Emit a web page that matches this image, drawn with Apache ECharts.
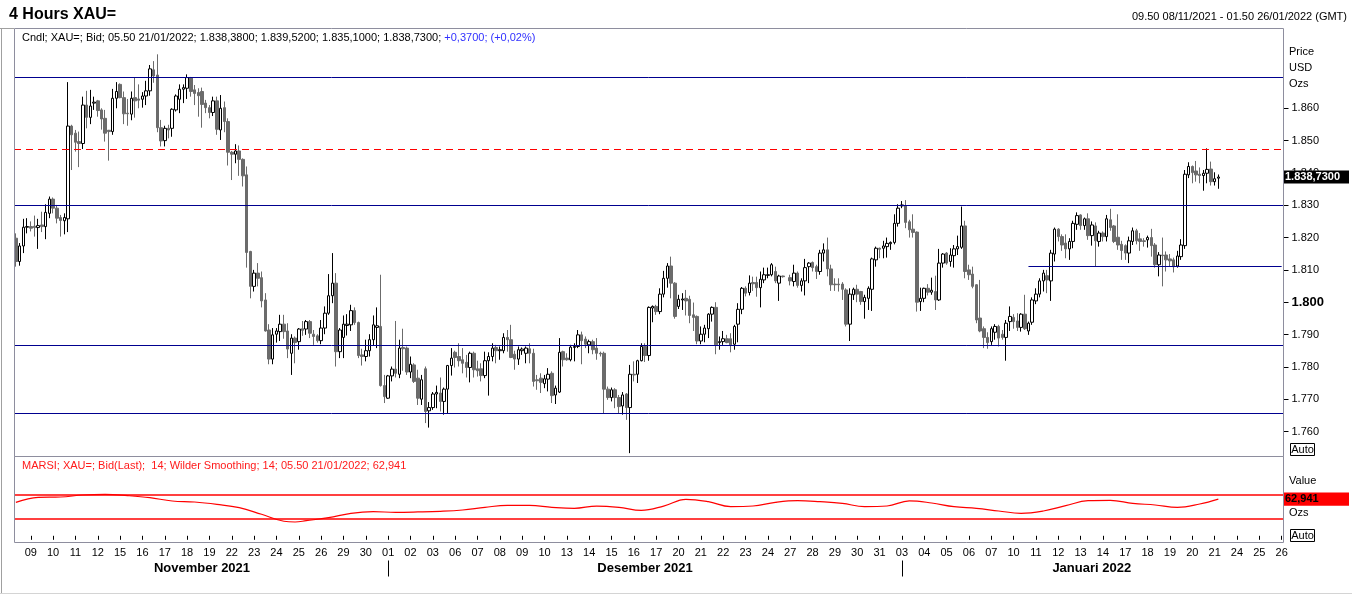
<!DOCTYPE html>
<html>
<head>
<meta charset="utf-8">
<title>4 Hours XAU=</title>
<script src="https://cdn.jsdelivr.net/npm/echarts@6/dist/echarts.min.js"></script>
<style>
  html, body { margin: 0; padding: 0; background: #fff; }
  #chart { width: 1352px; height: 596px; }
</style>
</head>
<body>
<div id="chart"></div>
<script>
// trading days on the axis, 4h candles (local time)
var tradingDays = [
  '2021-11-08', '2021-11-09', '2021-11-10', '2021-11-11', '2021-11-12', '2021-11-15', '2021-11-16',
  '2021-11-17', '2021-11-18', '2021-11-19', '2021-11-22', '2021-11-23', '2021-11-24', '2021-11-25',
  '2021-11-26', '2021-11-29', '2021-11-30',
  '2021-12-01', '2021-12-02', '2021-12-03', '2021-12-06', '2021-12-07', '2021-12-08', '2021-12-09',
  '2021-12-10', '2021-12-13', '2021-12-14', '2021-12-15', '2021-12-16', '2021-12-17', '2021-12-20',
  '2021-12-21', '2021-12-22', '2021-12-23', '2021-12-24', '2021-12-27', '2021-12-28', '2021-12-29',
  '2021-12-30', '2021-12-31',
  '2022-01-03', '2022-01-04', '2022-01-05', '2022-01-06', '2022-01-07', '2022-01-10', '2022-01-11',
  '2022-01-12', '2022-01-13', '2022-01-14', '2022-01-17', '2022-01-18', '2022-01-19', '2022-01-20',
  '2022-01-21', '2022-01-24', '2022-01-25', '2022-01-26'
];
var candleTimes = ['01.50', '05.50', '09.50', '13.50', '17.50', '21.50'];
var monthNames = { '2021-11': 'November 2021', '2021-12': 'Desember 2021', '2022-01': 'Januari 2022' };

// OHLC, one value per 4h candle (null = no candle)
var opens = [
  1819.8, 1812.6, 1817.4, 1823.2, 1823.4, 1823.5, 1823.1, 1823.9, 1823.4, 1827.5,
  1831.9, 1829.1, 1826.2, 1825.2, 1825.8, 1854.5, 1852.3, 1849.7, 1849.1, 1861.0,
  1857.2, 1861.6, 1862.3, 1859.5, 1856.9, 1853.2, 1852.8, 1863.1, 1867.4, 1863.3,
  1858.5, 1858.2, 1863.3, 1862.9, 1862.8, 1863.8, 1865.4, 1871.9, 1870.3, 1854.0,
  1850.0, 1853.8, 1853.8, 1859.5, 1862.8, 1865.9, 1866.2, 1869.5, 1865.7, 1864.9,
  1865.2, 1861.6, 1860.2, 1858.7, 1862.3, 1853.3, 1860.2, 1855.9, 1846.4, 1845.8,
  1846.8, 1844.2, 1839.4, 1815.7, 1804.9, 1809.0, 1807.6, 1800.7, 1791.4, 1782.4,
  1790.1, 1790.9, 1793.2, 1791.1, 1784.2, 1788.9, 1787.8, 1791.8, 1791.7, 1794.0,
  1790.1, 1789.6, 1788.1, 1792.0, 1796.6, 1802.0, 1805.9, 1784.7, 1789.1, 1792.8,
  1793.0, 1797.4, 1793.7, 1783.7, 1783.2, 1785.0, 1788.4, 1792.2, 1792.5, 1774.2,
  1770.3, 1777.2, 1779.3, 1777.7, 1786.0, 1785.8, 1778.4, 1780.6, 1776.5, 1770.0,
  1779.4, 1766.4, 1767.4, 1771.6, 1771.9, 1769.3, 1773.1, 1780.4, 1784.5, 1783.2,
  1782.2, 1781.4, 1779.8, 1784.2, 1779.4, 1779.4, 1777.3, 1781.9, 1783.2, 1786.0,
  1785.0, 1785.0, 1789.1, 1788.4, 1783.9, 1782.4, 1785.0, 1784.2, 1785.6, 1784.2,
  1776.0, 1776.5, 1774.8, 1776.2, 1778.0, 1771.3, 1772.2, 1784.7, 1782.7, 1782.2,
  1786.0, 1786.3, 1789.9, 1788.6, 1786.8, 1787.8, 1785.8, 1784.2, 1784.2, 1773.1,
  1770.5, 1772.9, 1770.5, 1767.9, 1771.6, 1767.4, 1777.7, 1777.7, 1781.9, 1786.3,
  1783.5, 1798.2, 1798.7, 1797.1, 1802.5, 1807.4, 1811.2, 1805.9, 1798.7, 1800.7,
  1801.2, 1800.9, 1796.1, 1795.6, 1788.0, 1790.1, 1791.8, 1796.3, 1798.4, 1787.5,
  1787.8, 1788.7, 1788.7, 1787.0, 1793.2, 1797.8, 1804.3, 1803.0, 1806.1, 1806.1,
  1804.5, 1806.9, 1808.3, 1808.5, 1809.5, 1805.9, 1808.1, null, 1807.6, 1806.4,
  1809.0, 1805.2, 1806.6, 1811.0, 1812.3, 1811.0, 1809.5, 1815.2, 1816.2, 1810.3,
  1805.6, 1805.6, 1805.6, 1803.8, 1793.2, 1802.3, 1804.0, 1803.3, 1800.2, 1801.2,
  1804.0, 1813.1, 1816.7, 1816.7, 1817.2, 1818.1, 1818.5, 1824.4, 1829.8, 1829.9,
  1824.9, 1822.6, 1821.7, 1800.2, 1801.2, 1804.3, 1803.1, 1803.3, 1800.7, 1812.1,
  1815.2, 1812.6, 1814.4, 1816.5, 1817.0, 1823.6, 1810.0, 1808.7, 1805.4, 1795.1,
  1791.8, 1789.1, 1787.8, 1790.7, 1792.5, 1790.1, 1789.1, 1794.0, 1795.3, 1794.2,
  1792.2, 1796.3, 1791.1, 1793.8, 1800.4, 1802.5, 1806.6, 1808.2, 1806.6, 1814.9,
  1822.6, 1820.3, 1818.3, 1816.5, 1818.8, 1824.1, 1827.0, 1823.7, 1825.8, 1820.6,
  1823.6, 1818.8, 1821.4, 1820.3, 1825.5, 1823.6, 1820.1, 1817.9, 1817.5, 1815.2,
  1818.8, 1822.1, 1819.6, 1819.0, 1819.3, 1820.0, 1817.7, 1811.6, 1814.6, 1814.6,
  1813.4, 1813.1, 1811.2, 1814.1, 1817.5, 1839.4, 1842.0, 1840.6, 1839.6, 1839.2,
  1839.9, 1841.2, 1837.3, 1838.38
];
var closes = [
  1812.6, 1817.4, 1823.2, 1823.4, 1822.9, 1823.1, 1823.7, 1823.4, 1827.8, 1831.9,
  1829.1, 1826.0, 1825.3, 1826.2, 1854.5, 1851.8, 1849.5, 1849.1, 1861.0, 1857.2,
  1860.7, 1861.9, 1859.3, 1856.7, 1852.3, 1852.8, 1863.1, 1865.2, 1863.3, 1858.3,
  1858.3, 1863.1, 1862.3, 1862.5, 1863.8, 1865.4, 1872.2, 1870.0, 1854.0, 1849.9,
  1853.8, 1853.3, 1859.7, 1863.8, 1865.9, 1866.4, 1869.5, 1865.2, 1864.6, 1863.9,
  1861.2, 1860.2, 1858.7, 1862.3, 1853.5, 1860.0, 1855.9, 1846.4, 1845.8, 1846.8,
  1844.2, 1839.1, 1815.4, 1804.9, 1809.0, 1807.4, 1800.4, 1791.1, 1782.4, 1789.9,
  1791.1, 1793.2, 1790.9, 1785.5, 1788.9, 1787.5, 1791.7, 1791.3, 1794.0, 1790.4,
  1789.4, 1788.1, 1792.0, 1796.6, 1802.0, 1805.9, 1784.7, 1791.4, 1793.2, 1793.2,
  1797.4, 1793.7, 1783.5, 1783.2, 1785.0, 1788.4, 1793.0, 1792.7, 1774.2, 1770.8,
  1777.2, 1779.3, 1778.0, 1785.8, 1785.6, 1778.4, 1780.8, 1775.5, 1770.3, 1776.0,
  1766.2, 1767.4, 1771.6, 1772.1, 1769.3, 1773.1, 1780.4, 1782.7, 1782.9, 1781.9,
  1781.1, 1779.8, 1784.2, 1779.1, 1778.8, 1777.3, 1781.9, 1783.2, 1785.8, 1785.0,
  1785.3, 1789.1, 1788.4, 1782.9, 1782.4, 1785.3, 1785.5, 1785.8, 1784.2, 1775.5,
  1775.7, 1775.2, 1776.3, 1777.7, 1771.1, 1773.4, 1784.5, 1782.2, 1782.2, 1786.1,
  1786.3, 1789.9, 1788.1, 1787.0, 1787.8, 1785.3, 1784.2, 1784.0, 1773.1, 1770.5,
  1772.9, 1770.5, 1767.7, 1771.3, 1767.4, 1777.7, 1777.5, 1781.9, 1786.3, 1783.5,
  1798.4, 1798.7, 1797.1, 1802.5, 1807.4, 1811.2, 1805.9, 1795.6, 1800.9, 1801.0,
  1800.4, 1795.9, 1795.3, 1788.0, 1790.1, 1792.0, 1796.3, 1798.4, 1786.8, 1787.8,
  1788.7, 1787.5, 1786.8, 1792.5, 1797.8, 1804.3, 1802.8, 1805.9, 1805.7, 1804.5,
  1807.1, 1808.5, 1808.5, 1811.6, 1806.6, 1808.1, 1807.9, null, 1806.6, 1809.0,
  1805.2, 1806.6, 1810.7, 1812.1, 1810.7, 1809.5, 1815.2, 1816.2, 1810.3, 1805.4,
  1805.4, 1805.4, 1804.0, 1793.2, 1802.5, 1804.0, 1802.5, 1800.2, 1801.5, 1804.3,
  1813.4, 1816.7, 1816.4, 1817.4, 1818.2, 1818.5, 1824.4, 1829.1, 1830.1, 1824.7,
  1822.4, 1821.6, 1800.0, 1801.2, 1804.3, 1803.1, 1803.7, 1800.7, 1812.1, 1814.9,
  1812.1, 1814.6, 1816.5, 1817.2, 1823.6, 1809.5, 1808.5, 1804.9, 1794.5, 1791.1,
  1789.1, 1787.5, 1791.8, 1792.5, 1788.9, 1789.1, 1793.5, 1795.6, 1794.0, 1792.2,
  1796.3, 1791.8, 1793.5, 1800.7, 1802.5, 1806.6, 1809.0, 1806.9, 1815.2, 1822.6,
  1820.3, 1817.7, 1816.5, 1818.8, 1824.4, 1826.8, 1823.7, 1825.8, 1820.6, 1823.9,
  1819.0, 1821.4, 1820.3, 1825.8, 1823.1, 1818.8, 1817.7, 1816.0, 1815.2, 1819.0,
  1822.1, 1819.0, 1818.8, 1818.8, 1820.0, 1817.5, 1811.6, 1814.6, 1814.4, 1813.1,
  1812.8, 1811.0, 1814.3, 1817.7, 1839.6, 1842.0, 1840.1, 1839.4, 1839.2, 1839.9,
  1841.1, 1837.3, 1838.2, 1838.73
];
var highs = [
  1821.3, 1818.3, 1825.8, 1826.0, 1825.0, 1826.8, 1825.8, 1828.0, 1830.3, 1832.7,
  1832.4, 1830.1, 1827.0, 1827.5, 1868.1, 1854.9, 1853.3, 1852.8, 1863.6, 1865.4,
  1865.7, 1863.6, 1862.6, 1860.0, 1859.5, 1853.3, 1866.0, 1868.1, 1867.7, 1865.2,
  1862.9, 1865.2, 1869.5, 1867.4, 1865.0, 1868.5, 1873.4, 1874.6, 1876.7, 1856.4,
  1854.6, 1854.9, 1860.0, 1864.3, 1867.4, 1867.4, 1870.5, 1869.7, 1867.2, 1866.2,
  1866.4, 1862.6, 1861.0, 1863.6, 1863.6, 1864.1, 1862.1, 1856.9, 1846.8, 1848.9,
  1848.5, 1844.5, 1842.0, 1815.9, 1810.0, 1812.1, 1809.5, 1802.8, 1793.2, 1792.0,
  1792.0, 1796.1, 1796.1, 1793.5, 1790.1, 1789.4, 1792.0, 1794.2, 1794.5, 1794.5,
  1791.4, 1790.1, 1794.5, 1798.7, 1808.7, 1815.2, 1809.0, 1792.0, 1795.9, 1796.3,
  1799.2, 1798.4, 1794.0, 1785.6, 1788.4, 1790.1, 1795.9, 1798.4, 1808.5, 1777.5,
  1777.5, 1780.1, 1794.2, 1788.4, 1791.8, 1786.3, 1783.2, 1781.1, 1779.1, 1777.5,
  1780.1, 1769.1, 1772.2, 1774.2, 1776.7, 1773.6, 1780.6, 1785.8, 1785.0, 1787.3,
  1785.8, 1783.7, 1784.7, 1784.7, 1781.9, 1781.1, 1784.7, 1784.5, 1787.3, 1786.8,
  1786.3, 1790.4, 1791.4, 1793.0, 1785.0, 1786.3, 1786.0, 1786.3, 1787.3, 1785.6,
  1777.5, 1778.0, 1777.5, 1779.6, 1778.6, 1774.2, 1788.9, 1785.0, 1784.2, 1786.8,
  1787.3, 1791.4, 1790.9, 1789.4, 1788.4, 1788.4, 1788.9, 1784.7, 1784.7, 1773.9,
  1773.6, 1773.4, 1771.3, 1772.2, 1771.9, 1780.6, 1781.7, 1782.2, 1787.3, 1787.3,
  1798.7, 1799.0, 1799.2, 1804.3, 1809.7, 1812.1, 1814.1, 1806.2, 1802.3, 1802.8,
  1803.8, 1802.0, 1799.9, 1795.9, 1792.5, 1793.0, 1796.6, 1798.7, 1800.0, 1789.4,
  1791.1, 1789.9, 1790.4, 1793.0, 1799.7, 1804.7, 1804.9, 1808.3, 1807.9, 1807.9,
  1809.5, 1810.7, 1810.7, 1812.1, 1811.0, 1808.5, 1808.2, null, 1808.5, 1811.6,
  1809.5, 1807.4, 1813.4, 1812.4, 1812.6, 1811.6, 1816.2, 1818.2, 1820.0, 1811.6,
  1807.4, 1807.4, 1806.2, 1804.3, 1804.3, 1804.5, 1805.4, 1803.5, 1802.3, 1804.9,
  1813.8, 1817.2, 1816.9, 1819.0, 1820.0, 1818.8, 1827.2, 1830.3, 1831.3, 1831.6,
  1825.5, 1827.2, 1821.9, 1804.5, 1804.5, 1805.6, 1807.6, 1808.2, 1816.5, 1815.2,
  1815.5, 1816.7, 1817.7, 1820.6, 1829.6, 1825.2, 1811.6, 1811.0, 1805.6, 1806.9,
  1792.5, 1790.7, 1792.5, 1793.2, 1793.0, 1791.4, 1794.5, 1798.7, 1796.3, 1796.6,
  1796.6, 1802.3, 1794.0, 1801.5, 1804.3, 1807.4, 1810.0, 1810.0, 1816.2, 1823.1,
  1822.9, 1821.0, 1821.0, 1819.8, 1825.2, 1827.8, 1827.2, 1826.2, 1827.5, 1825.0,
  1824.7, 1822.1, 1821.9, 1827.0, 1828.9, 1823.9, 1827.2, 1819.0, 1817.9, 1820.3,
  1823.1, 1822.7, 1821.4, 1819.8, 1820.6, 1822.7, 1818.3, 1815.5, 1820.0, 1815.7,
  1814.9, 1813.8, 1815.9, 1819.5, 1840.9, 1843.3, 1842.3, 1843.7, 1841.7, 1840.9,
  1847.6, 1843.5, 1840.2, 1839.52
];
var lows = [
  1811.0, 1811.3, 1815.2, 1821.3, 1821.9, 1820.3, 1816.5, 1821.7, 1819.5, 1826.0,
  1827.5, 1824.4, 1820.3, 1821.0, 1821.7, 1840.9, 1846.6, 1841.8, 1847.4, 1853.8,
  1855.1, 1859.5, 1857.4, 1853.4, 1849.7, 1843.8, 1851.8, 1860.0, 1863.1, 1855.1,
  1854.6, 1856.3, 1857.1, 1860.0, 1860.2, 1861.0, 1863.9, 1867.9, 1852.6, 1848.2,
  1848.2, 1850.7, 1851.2, 1859.0, 1858.5, 1861.6, 1862.9, 1863.6, 1861.0, 1857.4,
  1854.0, 1858.5, 1856.9, 1857.6, 1851.8, 1850.2, 1852.6, 1842.3, 1837.8, 1843.0,
  1839.1, 1835.8, 1810.7, 1801.2, 1803.3, 1804.9, 1798.4, 1790.9, 1780.8, 1780.8,
  1787.5, 1788.0, 1788.7, 1782.7, 1777.5, 1781.1, 1785.3, 1789.6, 1789.9, 1788.9,
  1786.8, 1787.5, 1787.0, 1790.1, 1796.1, 1799.7, 1780.1, 1782.7, 1782.7, 1789.7,
  1791.1, 1793.0, 1782.7, 1780.4, 1781.7, 1783.2, 1786.5, 1785.8, 1773.9, 1768.8,
  1770.1, 1775.5, 1776.7, 1776.5, 1778.8, 1777.5, 1776.5, 1775.0, 1768.2, 1768.2,
  1762.6, 1761.2, 1766.7, 1767.2, 1766.2, 1765.2, 1765.7, 1777.3, 1779.8, 1780.1,
  1778.0, 1776.7, 1775.2, 1776.7, 1777.0, 1775.5, 1776.5, 1771.1, 1781.7, 1781.1,
  1782.2, 1784.2, 1784.7, 1782.7, 1779.1, 1780.6, 1783.7, 1781.1, 1781.1, 1773.9,
  1772.9, 1771.9, 1773.4, 1772.4, 1768.8, 1768.5, 1771.9, 1780.1, 1781.9, 1781.7,
  1781.7, 1785.8, 1780.8, 1785.8, 1784.2, 1783.9, 1782.2, 1783.2, 1765.7, 1769.8,
  1769.3, 1767.2, 1765.7, 1765.2, 1763.6, 1753.3, 1775.5, 1775.0, 1781.7, 1781.5,
  1781.9, 1793.8, 1796.1, 1796.3, 1801.5, 1804.5, 1801.2, 1794.9, 1797.9, 1797.6,
  1795.9, 1793.5, 1791.1, 1787.0, 1787.0, 1787.6, 1788.9, 1794.0, 1783.9, 1785.3,
  1786.8, 1787.3, 1784.5, 1785.3, 1787.6, 1796.3, 1801.8, 1802.1, 1803.5, 1801.7,
  1798.4, 1805.9, 1807.4, 1808.0, 1805.9, 1800.4, 1807.6, null, 1805.2, 1804.9,
  1804.5, 1803.3, 1802.1, 1805.9, 1809.5, 1807.2, 1808.5, 1812.6, 1808.0, 1803.5,
  1803.5, 1803.3, 1800.7, 1792.5, 1788.0, 1800.7, 1800.0, 1799.2, 1794.9, 1797.6,
  1797.3, 1811.0, 1813.6, 1813.6, 1813.8, 1816.2, 1817.9, 1823.4, 1829.1, 1822.9,
  1820.0, 1820.0, 1797.1, 1797.3, 1800.0, 1802.1, 1802.3, 1797.6, 1800.4, 1810.7,
  1811.6, 1811.0, 1810.7, 1814.6, 1816.5, 1807.4, 1806.9, 1804.3, 1793.5, 1790.7,
  1785.8, 1785.6, 1786.8, 1788.4, 1786.3, 1788.4, 1781.9, 1791.1, 1791.8, 1791.1,
  1790.9, 1791.4, 1789.9, 1793.0, 1799.4, 1801.5, 1803.3, 1802.8, 1800.4, 1812.6,
  1818.8, 1815.9, 1813.6, 1813.1, 1816.7, 1822.4, 1822.4, 1822.4, 1819.3, 1817.5,
  1811.0, 1817.2, 1818.8, 1818.8, 1822.1, 1818.3, 1816.2, 1813.1, 1813.1, 1812.1,
  1817.7, 1817.9, 1815.9, 1817.2, 1816.9, 1814.1, 1810.7, 1808.0, 1804.9, 1809.5,
  1811.0, 1809.2, 1810.7, 1813.1, 1816.5, 1838.4, 1836.8, 1837.3, 1836.8, 1834.5,
  1836.8, 1836.1, 1836.1, 1835.10
];

// MARSI(14) read at candle positions
var rsiSlots = [0, 6, 12, 18, 24, 30, 36, 42, 48, 54, 60, 66, 72, 75, 78, 84, 90, 96, 102, 108,
  114, 120, 126, 132, 138, 144, 150, 156, 162, 168, 174, 180, 186, 192, 198, 204, 210, 216, 222, 228,
  234, 240, 246, 252, 258, 264, 270, 276, 282, 288, 294, 300, 306, 312, 318, 323];
var rsiValues = [57.4, 66.0, 66.6, 70.0, 71.1, 68.9, 65.4, 59.7, 58.0, 54.0, 48.3, 36.9, 25.0, 23.7, 26.0, 31.1, 38.6, 41.4, 40.3, 40.9,
  42.0, 44.3, 48.9, 52.3, 52.3, 48.9, 47.1, 51.1, 48.9, 43.7, 51.0, 62.6, 58.6, 50.0, 51.1, 57.4, 60.3, 58.6, 55.7, 50.0,
  51.1, 60.0, 56.3, 50.0, 47.1, 42.6, 38.6, 42.6, 51.7, 60.3, 60.9, 55.7, 52.9, 48.9, 54.6, 62.941];

var levelLines = [1869.6, 1830.0, 1786.7, 1765.6];
var dashedLevel = 1847.3;
var supportLevel = 1811.2;
var supportFromSlot = 272;
var priceTicks = [1760, 1770, 1780, 1790, 1800, 1810, 1820, 1830, 1840, 1850, 1860];
var rsiBands = [70, 30];
var lastClose = 1838.73;
var lastRsi = 62.941;

var headerMain = 'Cndl; XAU=; Bid; 05.50 21/01/2022; 1.838,3800; 1.839,5200; 1.835,1000; 1.838,7300; ';
var headerChange = '+0,3700; (+0,02%)';
var rsiHeader = 'MARSI; XAU=; Bid(Last);  14; Wilder Smoothing; 14; 05.50 21/01/2022; 62,941';

// build the time slots
var categories = [];
tradingDays.forEach(function (d, i) {
  var times = candleTimes;
  if (i === 0) times = candleTimes.slice(2);
  if (i === tradingDays.length - 1) times = candleTimes.slice(0, 1);
  times.forEach(function (t) { categories.push(d + ' ' + t); });
});

var monthStarts = [];
var monthMids = [];
(function () {
  var ranges = [];
  categories.forEach(function (c, i) {
    var m = c.slice(0, 7);
    if (!ranges.length || ranges[ranges.length - 1].m !== m) ranges.push({ m: m, s: i, e: i });
    else ranges[ranges.length - 1].e = i;
  });
  ranges.forEach(function (r, i) {
    if (i > 0) monthStarts.push(r.s);
    monthMids.push(Math.round((r.s + r.e) / 2));
  });
})();

function isDayStart(idx, value) { return value.slice(11) === '01.50'; }
function fmtPrice(v) {
  var s = String(Math.round(v));
  return s.slice(0, 1) + '.' + s.slice(1);
}

var candleData = opens.map(function (o, i) {
  return o == null ? '-' : [o, closes[i], lows[i], highs[i]];
});
var rsiData = rsiSlots.map(function (s, i) { return [s, rsiValues[i]]; });

var FONT = "'Liberation Sans', Arial, sans-serif";
var NAVY = '#00008f';

var chart = echarts.init(document.getElementById('chart'));

var levelData = levelLines.map(function (v) { return { yAxis: v }; });
levelData.push({ yAxis: dashedLevel, lineStyle: { color: '#ff0000', type: [7, 5] } });
levelData.push([
  { coord: [categories[supportFromSlot], supportLevel] },
  { coord: [categories[categories.length - 1], supportLevel] }
]);

var option = {
  animation: false,
  backgroundColor: '#ffffff',
  textStyle: { fontFamily: FONT },
  grid: [
    { left: 14, top: 28.5, width: 1269.5, height: 428 },
    { left: 14, top: 456.5, width: 1269.5, height: 86 }
  ],
  xAxis: [
    { type: 'category', gridIndex: 0, data: categories, show: false },
    {
      type: 'category', gridIndex: 1, data: categories, position: 'bottom',
      axisLine: { show: false },
      axisTick: { show: true, interval: isDayStart, alignWithLabel: true, length: 4, lineStyle: { color: '#000' } },
      axisLabel: {
        interval: isDayStart, margin: 5, color: '#000', fontSize: 11, fontFamily: FONT,
        formatter: function (v) { return v.slice(8, 10); }
      },
      splitLine: { show: false }
    },
    {
      type: 'category', gridIndex: 1, data: categories, position: 'bottom', offset: 18,
      axisLine: { show: false },
      axisTick: {
        show: true, alignWithLabel: true, length: 16, lineStyle: { color: '#000' },
        interval: function (idx) { return monthStarts.indexOf(idx) >= 0; }
      },
      axisLabel: {
        margin: 1, color: '#000', fontSize: 13, fontWeight: 'bold', fontFamily: FONT,
        interval: function (idx) { return monthMids.indexOf(idx) >= 0; },
        formatter: function (v) { return monthNames[v.slice(0, 7)]; }
      },
      splitLine: { show: false }
    }
  ],
  yAxis: [
    {
      type: 'value', gridIndex: 0, position: 'right', min: 1752.26, max: 1884.69, scale: true,
      axisLine: { show: false },
      splitLine: { show: false },
      axisTick: { show: true, length: 5, customValues: priceTicks, lineStyle: { color: '#000' } },
      axisLabel: {
        customValues: priceTicks, margin: 8, color: '#000', fontSize: 11, fontFamily: FONT,
        formatter: function (v) {
          return v === 1800 ? '{b|' + fmtPrice(v) + '}' : fmtPrice(v);
        },
        rich: { b: { fontSize: 13, fontWeight: 'bold', color: '#000', fontFamily: FONT } }
      }
    },
    {
      type: 'value', gridIndex: 1, min: -11.5, max: 136.1,
      axisLine: { show: false }, axisTick: { show: false },
      axisLabel: { show: false }, splitLine: { show: false }
    }
  ],
  series: [
    {
      type: 'candlestick',
      xAxisIndex: 0, yAxisIndex: 0,
      data: candleData,
      barWidth: 3,
      itemStyle: {
        color: '#ffffff', color0: '#6b6b6b',
        borderColor: '#000000', borderColor0: '#6b6b6b', borderWidth: 1
      },
      markLine: {
        silent: true, symbol: ['none', 'none'], label: { show: false },
        lineStyle: { color: NAVY, width: 1, type: 'solid' },
        data: levelData
      }
    },
    {
      type: 'line',
      xAxisIndex: 1, yAxisIndex: 1,
      data: rsiData,
      smooth: 0.4,
      symbol: 'none',
      lineStyle: { color: '#ff0000', width: 1.2 },
      markLine: {
        silent: true, symbol: ['none', 'none'], label: { show: false },
        lineStyle: { color: '#ff0000', width: 1.5, type: 'solid' },
        data: rsiBands.map(function (v) { return { yAxis: v }; })
      }
    }
  ]
};
chart.setOption(option);

// frame, texts and value tags
var yClose = chart.convertToPixel({ yAxisIndex: 0 }, lastClose);
var yRsi = chart.convertToPixel({ yAxisIndex: 1 }, lastRsi);

function txt(x, y, text, opts) {
  opts = opts || {};
  return {
    type: 'text', z: 100, silent: true,
    style: {
      x: x, y: y, text: text,
      fill: opts.fill || '#000',
      font: (opts.weight || 'normal') + ' ' + (opts.size || 11) + 'px ' + FONT,
      align: opts.align || 'left', textAlign: opts.align || 'left',
      verticalAlign: 'middle', textVerticalAlign: 'middle',
      rich: opts.rich
    }
  };
}
function box(x, y, w, h, fill, stroke) {
  return {
    type: 'rect', z: 99, silent: true,
    shape: { x: x, y: y, width: w, height: h },
    style: { fill: fill || 'none', stroke: stroke || null, lineWidth: 1 }
  };
}
function seg(x1, y1, x2, y2, color) {
  return {
    type: 'line', z: 98, silent: true,
    shape: { x1: x1, y1: y1, x2: x2, y2: y2 },
    style: { stroke: color, lineWidth: 1 }
  };
}

var PANEL = '#8e8e9e';
chart.setOption({
  graphic: [
    seg(1.5, 28.5, 1.5, 593.5, '#a0a0a0'),
    seg(0, 593.5, 1352, 593.5, '#d4d4d4'),
    seg(0, 28.5, 14, 28.5, '#a0a0a0'),
    box(14.5, 28.5, 1269, 428, null, PANEL),
    box(14.5, 456.5, 1269, 86, null, PANEL),

    txt(9, 15, '4 Hours XAU=', { size: 16, weight: 'bold' }),
    txt(1347, 17, '09.50 08/11/2021 - 01.50 26/01/2022 (GMT)', { align: 'right' }),
    {
      type: 'text', z: 100, silent: true,
      style: {
        x: 22, y: 37.5,
        text: '{a|' + headerMain + '}{b|' + headerChange + '}',
        font: '11px ' + FONT, verticalAlign: 'middle', textVerticalAlign: 'middle',
        rich: {
          a: { fill: '#000000', fontSize: 11, fontFamily: FONT },
          b: { fill: '#3030ff', fontSize: 11, fontFamily: FONT }
        }
      }
    },
    txt(22, 466, rsiHeader, { fill: '#ff1a1a' }),

    txt(1289, 52, 'Price'),
    txt(1289, 68, 'USD'),
    txt(1289, 84, 'Ozs'),
    txt(1289, 481, 'Value'),
    txt(1289, 513, 'Ozs'),

    box(1290.5, 443.5, 24, 12, '#ffffff', '#000000'),
    txt(1302.5, 449.5, 'Auto', { align: 'center' }),
    box(1290.5, 529.5, 24, 12, '#ffffff', '#000000'),
    txt(1302.5, 535.5, 'Auto', { align: 'center' }),

    box(1284, yClose - 6.5, 65, 13, '#000000', null),
    txt(1285, yClose, '1.838,7300', { fill: '#ffffff', weight: 'bold' }),
    box(1284, yRsi - 6.7, 65, 13.4, '#ff0000', null),
    txt(1285, yRsi, '62,941', { fill: '#000000', weight: 'bold' })
  ]
});
</script>
</body>
</html>
